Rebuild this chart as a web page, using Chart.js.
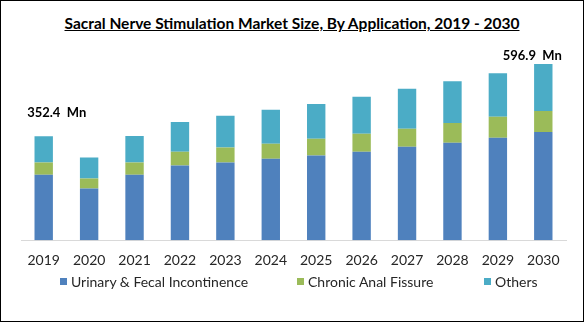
<!DOCTYPE html>
<html>
<head>
<meta charset="utf-8">
<script src="https://cdn.jsdelivr.net/npm/chart.js@4"></script>
<style>
  html, body { margin: 0; padding: 0; background: #fff; }
  #wrap { position: relative; width: 584px; height: 322px; box-sizing: border-box; border: 1px solid #000; overflow: hidden; font-family: Lato, "Open Sans", sans-serif; }
  #title { position: absolute; left: 0; right: 0; top: 13px; text-align: center; font-weight: bold; font-size: 15.5px; color: #000; text-decoration: underline; }
  #legend { position: absolute; left: 0; right: 0; top: 272px; height: 18px; font-size: 14px; color: #262626; }
  #legend span.item { position: absolute; top: 0; display: flex; align-items: center; white-space: nowrap; }
  #legend span.box { width: 7px; height: 7px; margin-right: 4px; display: inline-block; }
  canvas { position: absolute; left: -1px; top: -1px; }
</style>
</head>
<body>
<div id="wrap">
  <div id="title">Sacral Nerve Stimulation Market Size, By Application, 2019 - 2030</div>
  <canvas id="chart" width="584" height="322"></canvas>
  <div id="legend"></div>
</div>
<script>
// data (USD Mn)
const years = ["2019", "2020", "2021", "2022", "2023", "2024", "2025", "2026", "2027", "2028", "2029", "2030"];
const urinaryFecal = [222, 175, 222, 253, 263, 276, 287, 300, 317, 330, 347, 367];
const chronicAnal = [41, 34, 41, 47, 51, 51, 57, 61, 61, 67, 71, 71];
const others = [89.4, 71, 90, 101, 108, 115, 118, 125, 135, 142, 148, 158.9];
const seriesNames = ["Urinary & Fecal Incontinence", "Chronic Anal Fissure", "Others"];
const seriesColors = ["#4f81bd", "#9bbb59", "#4bacc6"];
// callouts above first and last bar
const calloutIndex = [0, 11];
const calloutText = ["352.4  Mn", "596.9  Mn"];

const calloutPlugin = {
  id: "callouts",
  afterDatasetsDraw(chart) {
    const ctx = chart.ctx;
    const x = chart.scales.x, y = chart.scales.y;
    ctx.save();
    ctx.font = "bold 13px Lato, sans-serif";
    ctx.fillStyle = "#000";
    ctx.textBaseline = "bottom";
    ctx.textAlign = "center";
    calloutIndex.forEach((idx, k) => {
      const total = urinaryFecal[idx] + chronicAnal[idx] + others[idx];
      const px = x.getPixelForValue(idx);
      const py = y.getPixelForValue(total);
      const dx = idx === 0 ? 13 : -11;
      const dy = idx === 0 ? 17 : 2;
      ctx.fillText(calloutText[k], px + dx, py - dy);
    });
    ctx.restore();
  }
};

const seriesData = [urinaryFecal, chronicAnal, others];

const ctx = document.getElementById("chart").getContext("2d");
new Chart(ctx, {
  type: "bar",
  data: {
    labels: years,
    datasets: seriesNames.map((name, i) => ({
      label: name,
      data: seriesData[i],
      backgroundColor: seriesColors[i],
      borderWidth: 0,
      barPercentage: 0.5,
      categoryPercentage: 0.81
    }))
  },
  options: {
    responsive: false,
    animation: false,
    layout: { padding: { top: 49, left: 21, right: 18, bottom: 41 } },
    plugins: {
      legend: { display: false },
      tooltip: { enabled: false }
    },
    scales: {
      x: {
        stacked: true,
        grid: { display: true, drawOnChartArea: false, drawTicks: false },
        border: { display: true, color: "#d9d9d9", width: 1 },
        ticks: { color: "#262626", padding: 12, font: { family: "Lato", size: 14 } }
      },
      y: {
        stacked: true,
        display: false,
        min: 0,
        max: 648
      }
    }
  },
  plugins: [calloutPlugin]
});

// legend under the axis, items placed where the original has them
const legendLeft = [59, 296, 483];
const legendEl = document.getElementById("legend");
seriesNames.forEach((name, i) => {
  const item = document.createElement("span");
  item.className = "item";
  item.style.left = legendLeft[i] + "px";
  const box = document.createElement("span");
  box.className = "box";
  box.style.background = seriesColors[i];
  item.appendChild(box);
  item.appendChild(document.createTextNode(name));
  legendEl.appendChild(item);
});
</script>
</body>
</html>
